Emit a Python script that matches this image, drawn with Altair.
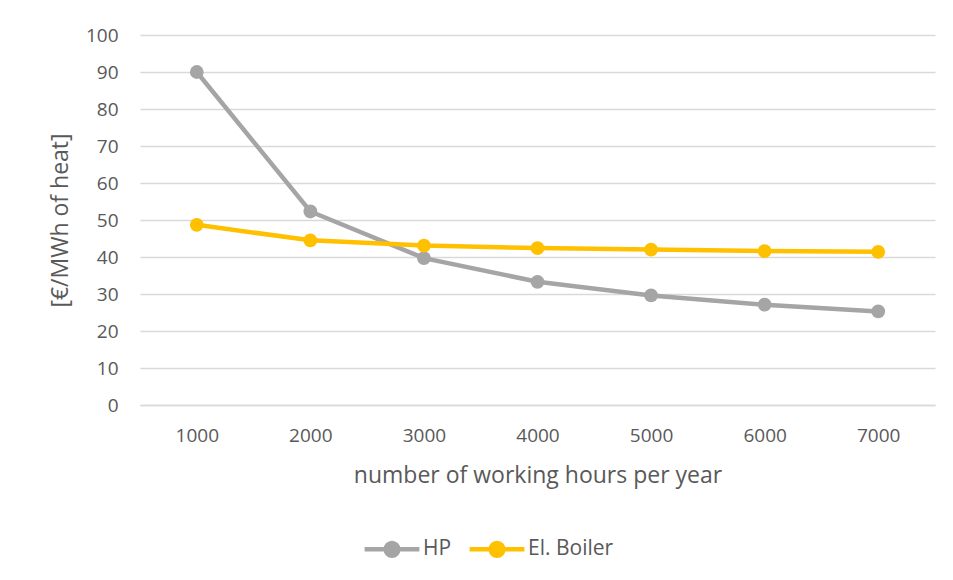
import altair as alt
import pandas as pd

hours = ["1000", "2000", "3000", "4000", "5000", "6000", "7000"]
hp = [90.0, 52.3, 39.7, 33.3, 29.6, 27.1, 25.3]
boiler = [48.7, 44.5, 43.1, 42.4, 42.0, 41.6, 41.4]
series = ["HP", "El. Boiler"]
colors = ["#a5a5a5", "#ffc000"]

rows = []
for name, vals in zip(series, [hp, boiler]):
    for h, v in zip(hours, vals):
        rows.append({"hours": h, "value": v, "series": name})
df = pd.DataFrame(rows)

FONT = "Open Sans"
TXT = "#595959"

legend_path = "M-1,0H1M-0.23,0a0.23,0.23 0 1,0 0.46,0a0.23,0.23 0 1,0 -0.46,0"

chart = alt.Chart(df).mark_line(
    strokeWidth=4.5,
    point=alt.OverlayMarkDef(size=190, filled=True, opacity=1),
).encode(
    x=alt.X("hours:O", sort=hours,
            scale=alt.Scale(type="point", padding=0.5),
            axis=alt.Axis(title="number of working hours per year", labelAngle=0,
                          ticks=False, domainColor="#d9d9d9", domainWidth=1.3,
                          labelPadding=21, titlePadding=19, grid=False)),
    y=alt.Y("value:Q",
            scale=alt.Scale(domain=[0, 100], nice=False, zero=True),
            axis=alt.Axis(title="[€/MWh of heat]", values=list(range(0, 101, 10)),
                          ticks=False, domain=False, labelPadding=22, titlePadding=13,
                          gridColor="#d9d9d9", gridWidth=1.3)),
    color=alt.Color("series:N", sort=series,
                    scale=alt.Scale(domain=series, range=colors),
                    legend=alt.Legend(title=None, orient="none", direction="horizontal",
                                      legendX=222, legendY=484,
                                      symbolType=legend_path, symbolSize=3000,
                                      symbolStrokeWidth=4.5, columnPadding=8,
                                      labelOffset=1)),
).properties(
    width=795, height=370,
    background="white",
    autosize=alt.AutoSizeParams(type="none"),
    padding={"left": 132, "top": 27, "right": 10, "bottom": 160},
).configure_view(stroke=None).configure_axis(
    labelFont=FONT, titleFont=FONT, labelColor=TXT, titleColor=TXT,
    labelFontSize=19, titleFontSize=23, titleFontWeight="normal",
).configure_legend(
    labelFont=FONT, labelColor=TXT, labelFontSize=21,
)

chart.save("out.html", embed_options={"renderer": "svg", "actions": False})
